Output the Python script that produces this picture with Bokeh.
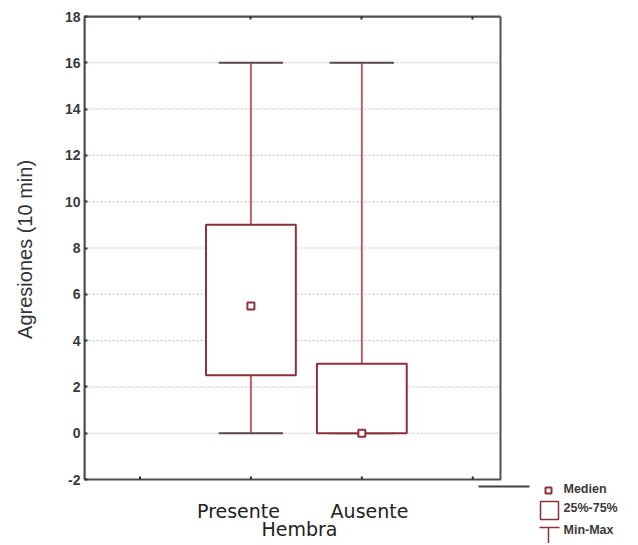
from bokeh.plotting import figure
from bokeh.models import FixedTicker, LinearAxis, Range1d
from bokeh.core.properties import value
from bokeh.embed import file_html
from bokeh.resources import INLINE

# ---- data ----
categories = ["Presente", "Ausente"]
positions = [1, 2]
mins = [0, 0]
q1 = [2.5, 0]
medians = [5.5, 0]
q3 = [9, 3]
maxs = [16, 16]
y_ticks = [-2, 0, 2, 4, 6, 8, 10, 12, 14, 16, 18]
x_slots = [0, 1, 2, 3]
x_label = "Hembra"
y_label = "Agresiones (10 min)"
legend_labels = ["Medien", "25%-75%", "Min-Max"]

# ---- layout (pixels on the canvas) ----
W, H = 630, 543
BL, BR, BT, BB = 84, 500, 16, 479          # the drawn plot box
XMIN, XMAX, YMIN, YMAX = -0.5, 3.25, -2, 18  # data extent of the plot box
ppx = (BR - BL) / (XMAX - XMIN)
ppy = (BB - BT) / (YMAX - YMIN)

def X(px):
    return XMIN + (px - BL) / ppx

def Y(py):
    return YMIN + (BB - py) / ppy

# frame extends to the right/bottom edge of the canvas so that the
# outside legend and category texts can be drawn
p = figure(width=W, height=H, output_backend="svg", toolbar_location=None,
           x_range=Range1d(XMIN, X(W)), y_range=Range1d(Y(H), YMAX),
           x_axis_location=None, min_border_left=BL, min_border_top=BT,
           min_border_right=0, min_border_bottom=0)
p.background_fill_color = "white"
p.border_fill_color = "white"
p.outline_line_color = None
p.xgrid.grid_line_color = None
p.ygrid.grid_line_color = None

frame_col = "#505050"
tick_col = "#303030"

# y axis (bounded to the plot box)
ya = p.yaxis[0]
ya.bounds = (YMIN, YMAX)
ya.ticker = FixedTicker(ticks=y_ticks)
ya.major_label_overrides = {t: str(t) for t in y_ticks}
ya.axis_line_color = frame_col
ya.axis_line_width = 2
ya.major_tick_in = 3
ya.major_tick_out = 0
ya.major_tick_line_color = tick_col
ya.major_tick_line_width = 2
ya.minor_tick_line_color = None
ya.major_label_text_font = "Liberation Sans Narrow, Liberation Sans"
ya.major_label_text_font_style = "bold"
ya.major_label_text_font_size = "14px"
ya.major_label_text_color = "#3a3a3a"
ya.major_label_standoff = 4
# leading no-break spaces move the centred title up to the middle of the plot box
ya.axis_label = "\u00a0" * 11 + y_label
ya.axis_label_text_font = "Liberation Sans"
ya.axis_label_text_font_style = "normal"
ya.axis_label_text_font_size = "20px"
ya.axis_label_text_color = "#333333"
ya.axis_label_standoff = 26

# top axis (bounded), ticks only
top = LinearAxis(bounds=(XMIN, XMAX), ticker=FixedTicker(ticks=[], minor_ticks=x_slots),
                 major_label_text_font_size="0px", minor_tick_in=3, minor_tick_out=0,
                 minor_tick_line_width=2, minor_tick_line_color=tick_col,
                 axis_line_color=frame_col, axis_line_width=2,
                 major_tick_line_color=None, major_label_standoff=0)
p.add_layout(top, "above")

# plot box, grid lines and bottom ticks
grid_ticks = [t for t in y_ticks if YMIN < t < YMAX]
p.segment(x0=XMIN, x1=XMAX, y0=grid_ticks, y1=grid_ticks,
          line_color="#bdbdbd", line_dash="2 2", line_width=1)
p.quad(left=XMIN, right=XMAX, bottom=YMIN, top=YMAX, fill_color=None,
       line_color=frame_col, line_width=2)
p.segment(x0=x_slots, x1=x_slots, y0=YMIN, y1=YMIN + 3 / ppy, line_color=tick_col, line_width=2)

box_w = 0.81
cap_w = 0.58
box_col = "#8e2f3a"
wh_col = "#b8606a"
cap_col = "#5a4a4c"

# box plot
p.segment(x0=positions, y0=q3, x1=positions, y1=maxs, line_color=wh_col, line_width=2)
p.segment(x0=positions, y0=mins, x1=positions, y1=q1, line_color=wh_col, line_width=2)
p.segment(x0=[x - cap_w / 2 for x in positions], y0=maxs,
          x1=[x + cap_w / 2 for x in positions], y1=maxs, line_color=cap_col, line_width=2)
p.segment(x0=[x - cap_w / 2 for x in positions], y0=mins,
          x1=[x + cap_w / 2 for x in positions], y1=mins, line_color=cap_col, line_width=2)
p.quad(left=[x - box_w / 2 for x in positions], right=[x + box_w / 2 for x in positions],
       bottom=q1, top=q3, fill_color="white", line_color=box_col, line_width=2)
p.scatter(x=positions, y=medians, marker="square", size=7, fill_color="white",
          line_color=box_col, line_width=2)

# category labels and x title
cat_px = [238, 369]
p.text(x=[X(c) for c in cat_px], y=[Y(510)] * len(categories), text=categories,
       text_align="center", text_baseline="middle", text_font=value("DejaVu Sans"),
       text_font_size="19px", text_color="#222222")
p.text(x=[X(299)], y=[Y(528)], text=[x_label], text_align="center", text_baseline="middle",
       text_font=value("DejaVu Sans"), text_font_size="19px", text_color="#222222")

# legend (below right of the plot box)
p.segment(x0=[X(478)], x1=[X(529)], y0=[Y(486)], y1=[Y(486)], line_color="#404040", line_width=2)
p.scatter(x=[X(548)], y=[Y(490)], marker="square", size=6, fill_color="white",
          line_color=box_col, line_width=2)
p.quad(left=[X(540)], right=[X(558)], bottom=[Y(519)], top=[Y(501)], fill_color="white",
       line_color=box_col, line_width=1.5)
p.segment(x0=[X(539)], x1=[X(559)], y0=[Y(527)], y1=[Y(527)], line_color=box_col, line_width=1.5)
p.segment(x0=[X(548)], x1=[X(548)], y0=[Y(527)], y1=[Y(543)], line_color=box_col, line_width=1.5)
p.text(x=[X(563)] * 3, y=[Y(488), Y(507), Y(529)], text=legend_labels, text_align="left",
       text_baseline="middle", text_font=value("Liberation Sans Narrow, Liberation Sans"),
       text_font_style="bold", text_font_size="12.5px", text_color="#3a3a3a")

open("out.html", "w").write(file_html(p, INLINE))
